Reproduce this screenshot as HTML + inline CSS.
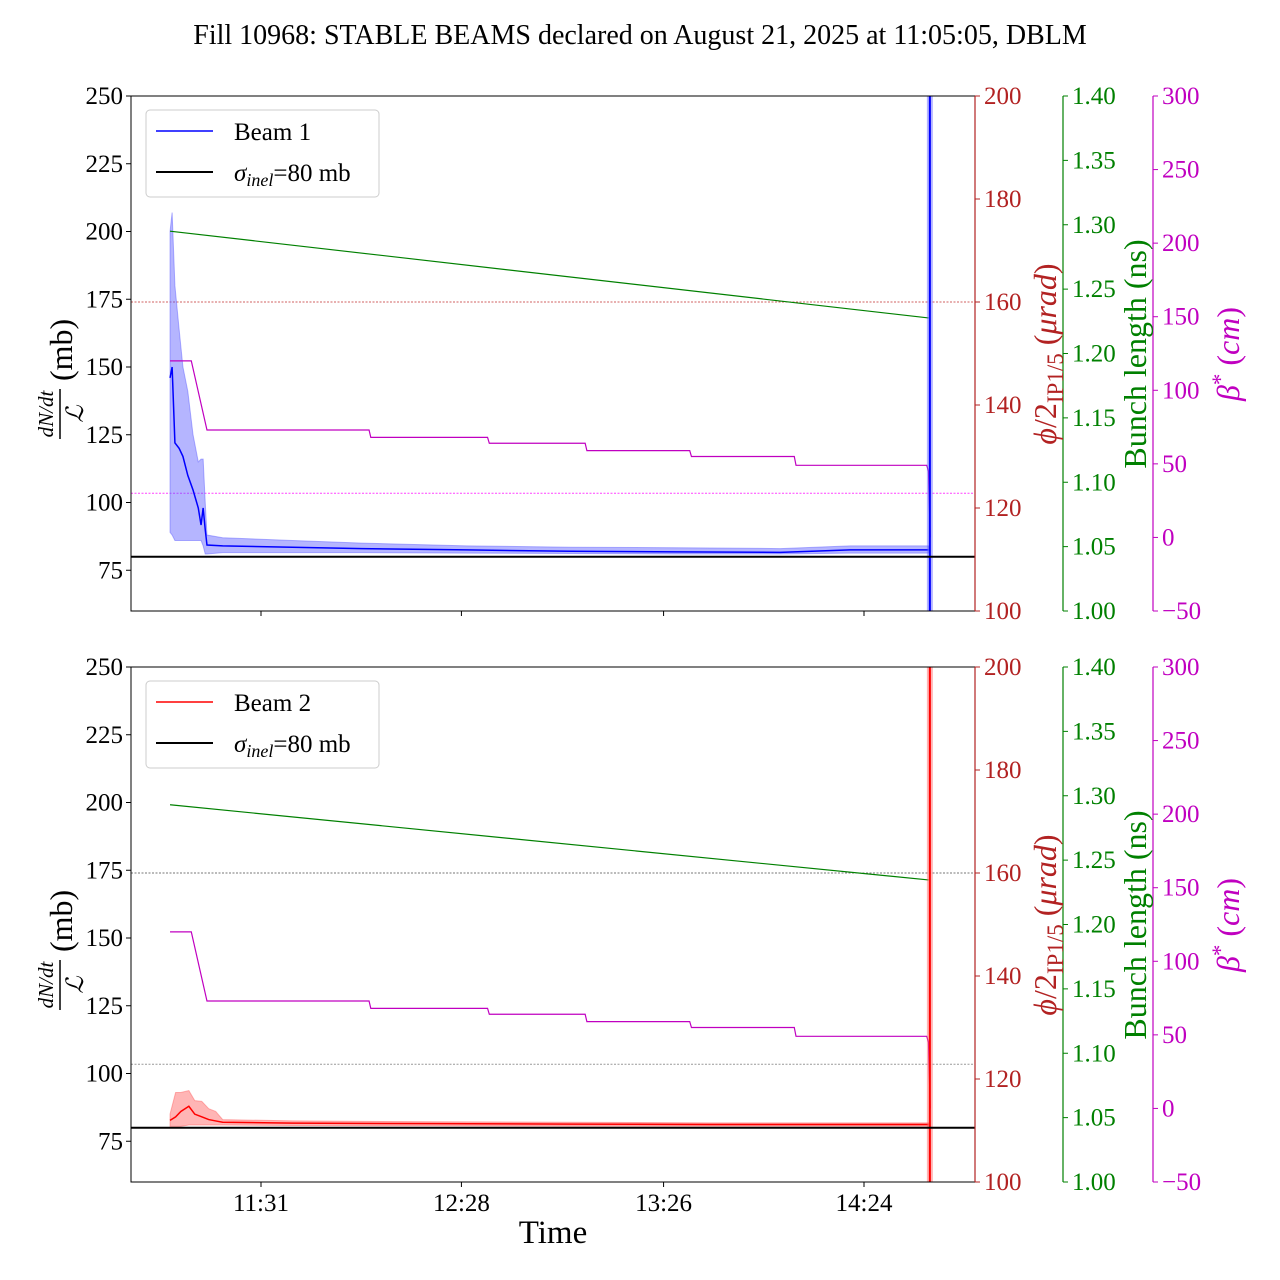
<!DOCTYPE html>
<html><head><meta charset="utf-8">
<style>
html,body{margin:0;padding:0;background:#fff;}
svg{display:block;font-family:"Liberation Serif",serif;}
</style></head>
<body>
<svg id="chart" width="1280" height="1280" xmlns="http://www.w3.org/2000/svg">
<text x="640" y="44" font-size="28" text-anchor="middle">Fill 10968: STABLE BEAMS declared on August 21, 2025 at 11:05:05, DBLM</text>
</svg>
<script>
// ---- data (time in minutes after 11:00) ----
const xTickMinutes = [31, 88.5, 146.5, 204];
const xTickLabels = ["11:31", "12:28", "13:26", "14:24"];
const leftTicks = [75, 100, 125, 150, 175, 200, 225, 250];
const redTicks = [100, 120, 140, 160, 180, 200];
const greenTicks = [1.00, 1.05, 1.10, 1.15, 1.20, 1.25, 1.30, 1.35, 1.40];
const magTicks = [-50, 0, 50, 100, 150, 200, 250, 300];

const b1Time = [4.9, 5.5, 6.3, 7.5, 8.6, 10, 11.5, 13, 13.8, 14.4, 15.0, 15.5, 20, 40, 60, 90, 120, 150, 180, 200, 222.5];
const b1Mean = [146, 150, 122, 120, 117, 110, 104.6, 98, 91.7, 98, 90, 84.3, 84, 83.5, 83, 82.5, 82, 81.8, 81.6, 82.5, 82.5];
const b1Hi   = [200, 207, 180, 164, 150, 141, 125, 115, 116, 116, 100, 88, 87, 86, 85, 84, 83.5, 83.3, 83, 84, 84];
const b1Lo   = [89, 88, 86, 86, 86, 86, 86, 86, 86, 84, 81, 81, 81.5, 81.5, 81.5, 81.3, 81.2, 81, 81, 81.3, 81.3];

const b2Time = [4.9, 6.5, 8, 10.3, 12, 14, 16, 18, 20, 40, 80, 120, 160, 200, 222.5];
const b2Mean = [82.7, 84, 86, 87.9, 85, 84, 83, 82.5, 82, 81.7, 81.5, 81.3, 81.2, 81.2, 81.2];
const b2Hi   = [85, 93, 93, 93.7, 90, 89.7, 87, 86, 83, 82.5, 82.2, 82, 81.8, 81.8, 81.8];
const b2Lo   = [80.5, 80.5, 80.5, 81, 81, 81, 81, 81, 81, 80.8, 80.7, 80.6, 80.6, 80.6, 80.6];

const betaTime = [4.9, 11, 15.5, 62, 62.5, 96, 96.5, 124, 124.5, 154, 154.5, 184, 184.5, 222, 222.5, 223];
const betaTop  = [120, 120, 73, 73, 68, 68, 64, 64, 59, 59, 55, 55, 49, 49, 45, 0];
const betaBot  = [120, 120, 73, 73, 68, 68, 64, 64, 59, 59, 55, 55, 49, 49, 45, 0];
const blTimeTop = [4.9, 222.5];
const blTop = [1.295, 1.2276];
const blBot = [1.293, 1.2346];
const crossingRef = [160];   // red axis
const betaRef = [30];        // magenta axis
const sigmaInel = 80;
const spikeTime = 222.9;

const NS = "http://www.w3.org/2000/svg";
const svg = document.getElementById("chart");
function mk(tag, attrs, parent) {
  const e = document.createElementNS(NS, tag);
  for (const k in attrs) e.setAttribute(k, attrs[k]);
  (parent || svg).appendChild(e);
  return e;
}
const X0 = 131, X1 = 975;
function xs(t) { return 261 + (t - 31) * 3.4855; }

function panel(top, cfg) {
  const bot = top + 515;
  const g = mk("g", {});
  
  
  const yL = v => top + (250 - v) * 2.71;
  const yR = v => bot - (v - 100) * 5.15;
  const yG = v => bot - (v - 1.0) * 1287.5;
  const yM = v => bot - (v + 50) * 515 / 350;
  const cp = "clip" + top;
  const cl = mk("clipPath", { id: cp }, g);
  mk("rect", { x: X0, y: top, width: X1 - X0, height: 515 }, cl);
  const plot = mk("g", { "clip-path": "url(#" + cp + ")" }, g);

  const r1 = mk("line", { x1: X0, x2: X1, y1: yR(crossingRef[0]), y2: yR(crossingRef[0]), stroke: cfg.refRed, "stroke-width": 1, "stroke-dasharray": "2,1.5" }, plot);
  
  
  const r2 = mk("line", { x1: X0, x2: X1, y1: yM(betaRef[0]), y2: yM(betaRef[0]), stroke: cfg.refMag, "stroke-width": 1, "stroke-dasharray": "2,1.5" }, plot);
  
  

  let d = "";
  cfg.t.forEach((t, i) => { d += (i ? "L" : "M") + xs(t) + "," + yL(cfg.hi[i]); });
  for (let i = cfg.t.length - 1; i >= 0; i--) d += "L" + xs(cfg.t[i]) + "," + yL(cfg.lo[i]);
  const band = mk("path", { d: d + "Z", fill: cfg.band, stroke: cfg.band, "stroke-width": 1 }, plot);
  
  
  const line = mk("polyline", { points: cfg.t.map((t, i) => xs(t) + "," + yL(cfg.mean[i])).join(" "), fill: "none", stroke: cfg.color, "stroke-width": 1.5 }, plot);
  
  

  const gl = mk("polyline", { points: blTimeTop.map((t, i) => xs(t) + "," + yG(cfg.bl[i])).join(" "), fill: "none", stroke: "#008000", "stroke-width": 1.2 }, plot);
  
  
  const ml = mk("polyline", { points: betaTime.map((t, i) => xs(t) + "," + yM(cfg.beta[i])).join(" "), fill: "none", stroke: "#c000c0", "stroke-width": 1.2 }, plot);
  
  

  const sp = mk("rect", { x: xs(spikeTime) - 3, y: top, width: 6, height: 515, fill: cfg.band }, plot);
  
  
  const sl = mk("line", { x1: xs(spikeTime), x2: xs(spikeTime), y1: top, y2: bot, stroke: cfg.color, "stroke-width": 2 }, plot);
  
  

  const si = mk("line", { x1: X0, x2: X1, y1: yL(sigmaInel), y2: yL(sigmaInel), stroke: "#000", "stroke-width": 2 }, plot);
  
  

  const fr = mk("rect", { x: X0, y: top, width: X1 - X0, height: 515, fill: "none", stroke: "#000", "stroke-width": 1 }, g);
  
  
  mk("line", { x1: X1, x2: X1, y1: top, y2: bot, stroke: "#b22222", "stroke-width": 1.2 }, g);
  mk("line", { x1: 1063, x2: 1063, y1: top, y2: bot, stroke: "#008000", "stroke-width": 1.2 }, g);
  mk("line", { x1: 1153, x2: 1153, y1: top, y2: bot, stroke: "#c000c0", "stroke-width": 1.2 }, g);

  leftTicks.forEach(v => {
    const y = yL(v);
    mk("line", { x1: X0 - 5, x2: X0, y1: y, y2: y, stroke: "#000" }, g);
    const t = mk("text", { x: X0 - 8, y: y + 8, "font-size": 25, "text-anchor": "end" }, g);
    t.textContent = v;
    
    
  });
  function rightAxis(ticks, fn, x, color, fmt, nm) {
    ticks.forEach(v => {
      const y = fn(v);
      mk("line", { x1: x, x2: x + 5, y1: y, y2: y, stroke: color }, g);
      const t = mk("text", { x: x + 9, y: y + 8, "font-size": 25, fill: color }, g);
      t.textContent = fmt(v);
      
      
    });
  }
  rightAxis(redTicks, yR, X1, "#b22222", v => v, 'crossing-angle-tick-label');
  rightAxis(greenTicks, yG, 1063, "#008000", v => v.toFixed(2), 'bunch-length-tick-label');
  rightAxis(magTicks, yM, 1153, "#c000c0", v => v < 0 ? "\u2212" + (-v) : v, 'beta-star-tick-label');

  xTickMinutes.forEach((m, i) => {
    const x = xs(m);
    mk("line", { x1: x, x2: x, y1: bot, y2: bot + 5, stroke: "#000" }, g);
    if (cfg.labels) {
      const t = mk("text", { x: x, y: bot + 29, "font-size": 25, "text-anchor": "middle" }, g);
      t.textContent = xTickLabels[i];
      
      
    }
  });

  const cy = top + 258;
  const lt = mk("g", { transform: "translate(60," + (cy + 60) + ") rotate(-90)" }, g);
  
  
  const n = mk("text", { x: 0, y: -7, "font-size": 21, "font-style": "italic", "text-anchor": "middle" }, lt);
  n.textContent = "dN/dt";
  mk("line", { x1: -25, x2: 25, y1: 0, y2: 0, stroke: "#000", "stroke-width": 1.5 }, lt);
  const dd = mk("text", { x: 0, y: 23, "font-size": 24, "font-style": "italic", "text-anchor": "middle" }, lt);
  dd.textContent = "\u2112";
  const mb = mk("text", { x: 33, y: 12, "font-size": 32 }, lt);
  mb.textContent = "(mb)";

  function rtitle(x, txt, color, nm, size) {
    const t = mk("text", { transform: "translate(" + x + "," + cy + ") rotate(-90)", "font-size": size, fill: color, "text-anchor": "middle" }, g);
    t.innerHTML = txt;
    
    
  }
  rtitle(1056, '<tspan font-style="italic">\u03d5</tspan>/2<tspan font-size="23" dy="7">IP1/5</tspan><tspan dy="-7"> (</tspan><tspan font-style="italic">\u03bcrad</tspan>)', "#b22222", 'crossing-angle-axis-title', 32);
  rtitle(1146, 'Bunch length (ns)', "#008000", 'bunch-length-axis-title', 32);
  rtitle(1239, '<tspan font-style="italic">\u03b2</tspan><tspan dy="-11" font-size="23">*</tspan><tspan dy="11"> (</tspan><tspan font-style="italic">cm</tspan>)', "#c000c0", 'beta-star-axis-title', 32);

  const lg = mk("g", {}, g);
  
  
  mk("rect", { x: 146, y: top + 14, width: 233, height: 87, rx: 4, fill: "#fff", "fill-opacity": 0.85, stroke: "#ccc" }, lg);
  mk("line", { x1: 156, x2: 213, y1: top + 35, y2: top + 35, stroke: cfg.color, "stroke-width": 1.5 }, lg);
  const l1 = mk("text", { x: 234, y: top + 44, "font-size": 25 }, lg);
  l1.textContent = cfg.label;
  
  
  mk("line", { x1: 156, x2: 213, y1: top + 76, y2: top + 76, stroke: "#000", "stroke-width": 2 }, lg);
  const l2 = mk("text", { x: 234, y: top + 85, "font-size": 25 }, lg);
  l2.innerHTML = '<tspan font-style="italic">\u03c3</tspan><tspan font-style="italic" font-size="18" dy="5">inel</tspan><tspan dy="-5">=80 mb</tspan>';
  
  
}

panel(96, { name: "beam1-panel", t: b1Time, mean: b1Mean, hi: b1Hi, lo: b1Lo, color: "#0000ff", band: "rgba(90,90,255,0.45)", bl: blTop, beta: betaTop, refRed: "#d06060", refMag: "#ff40ff", label: "Beam 1", labels: false });
panel(667, { name: "beam2-panel", t: b2Time, mean: b2Mean, hi: b2Hi, lo: b2Lo, color: "#ff0000", band: "rgba(255,90,90,0.45)", bl: blBot, beta: betaBot, refRed: "#777", refMag: "#999", label: "Beam 2", labels: true });

const xt = mk("text", { x: 553, y: 1243, "font-size": 33, "text-anchor": "middle" });
xt.textContent = "Time";


</script>
</body></html>
